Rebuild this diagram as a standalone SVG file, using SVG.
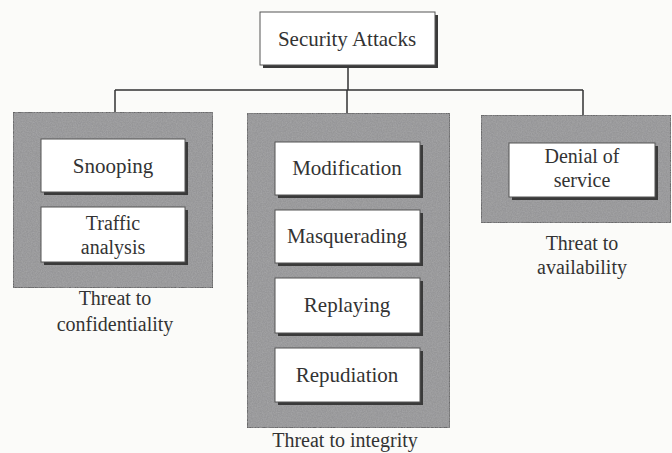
<svg xmlns="http://www.w3.org/2000/svg" width="672" height="453" viewBox="0 0 672 453">
<defs>
<filter id="grain" x="0" y="0" width="100%" height="100%">
<feTurbulence type="fractalNoise" baseFrequency="0.8" numOctaves="2" seed="3" result="n"/>
<feColorMatrix in="n" type="matrix" values="0 0 0 0 0.4  0 0 0 0 0.4  0 0 0 0 0.41  0 0 0 1.2 -0.35" result="g"/>
<feComposite in="g" in2="SourceGraphic" operator="in" result="gc"/>
<feMerge><feMergeNode in="SourceGraphic"/><feMergeNode in="gc"/></feMerge>
</filter>
</defs>
<style>
.bg{fill:#fbfbf9}
.grp{fill:#969698;stroke:#4a4a4a;stroke-width:1.2}
.box{fill:#ffffff;stroke:#555;stroke-width:1}
.sh{fill:#3a3a3a}
.t{font-family:"Liberation Serif","DejaVu Serif","Times New Roman",serif;font-size:21px;fill:#333;text-anchor:middle}
.t2{font-family:"Liberation Serif","DejaVu Serif","Times New Roman",serif;font-size:20px;fill:#333;text-anchor:middle}
.l{font-family:"Liberation Serif","DejaVu Serif","Times New Roman",serif;font-size:20px;fill:#333;text-anchor:middle}
.ln{stroke:#333;stroke-width:1.5;fill:none}
</style>
<rect class="bg" x="0" y="0" width="672" height="453"/>
<g id="connectors">
<path class="ln" d="M348 65 V90 M115 90 H583 M115 90 V139 M347 90 V142 M583 90 V143"/>
</g>
<g id="root">
<rect class="sh" x="263" y="15" width="175" height="53"/>
<rect class="box" x="260" y="12" width="175" height="53"/>
<text class="t" x="347" y="46">Security Attacks</text>
</g>
<g id="group-confidentiality">
<rect class="grp" x="13" y="112" width="200" height="176" filter="url(#grain)"/>
<text class="l" x="115" y="305">Threat to</text>
<text class="l" x="115" y="331">confidentiality</text>
</g>
<g id="snooping">
<rect class="sh" x="44" y="142" width="144" height="53"/>
<rect class="box" x="41" y="139" width="144" height="53"/>
<text class="t" x="113" y="173">Snooping</text>
</g>
<g id="traffic">
<rect class="sh" x="44" y="210" width="144" height="55"/>
<rect class="box" x="41" y="207" width="144" height="55"/>
<text class="t2" x="113" y="230">Traffic</text>
<text class="t2" x="113" y="254">analysis</text>
</g>
<g id="group-integrity">
<rect class="grp" x="247" y="113" width="203" height="315" filter="url(#grain)"/>
<text class="l" x="345" y="447">Threat to integrity</text>
</g>
<g id="modification">
<rect class="sh" x="278" y="145" width="145" height="53"/>
<rect class="box" x="275" y="142" width="145" height="53"/>
<text class="t" x="347" y="175">Modification</text>
</g>
<g id="masquerading">
<rect class="sh" x="278" y="213" width="145" height="53"/>
<rect class="box" x="275" y="210" width="145" height="53"/>
<text class="t" x="347" y="243">Masquerading</text>
</g>
<g id="replaying">
<rect class="sh" x="278" y="281" width="145" height="55"/>
<rect class="box" x="275" y="278" width="145" height="55"/>
<text class="t" x="347" y="312">Replaying</text>
</g>
<g id="repudiation">
<rect class="sh" x="278" y="351" width="145" height="54"/>
<rect class="box" x="275" y="348" width="145" height="54"/>
<text class="t" x="347" y="382">Repudiation</text>
</g>
<g id="group-availability">
<rect class="grp" x="481" y="115" width="190" height="108" filter="url(#grain)"/>
<text class="l" x="582" y="250">Threat to</text>
<text class="l" x="582" y="274">availability</text>
</g>
<g id="dos">
<rect class="sh" x="512" y="146" width="146" height="54"/>
<rect class="box" x="509" y="143" width="146" height="54"/>
<text class="t2" x="582" y="163">Denial of</text>
<text class="t2" x="582" y="187">service</text>
</g>
</svg>
